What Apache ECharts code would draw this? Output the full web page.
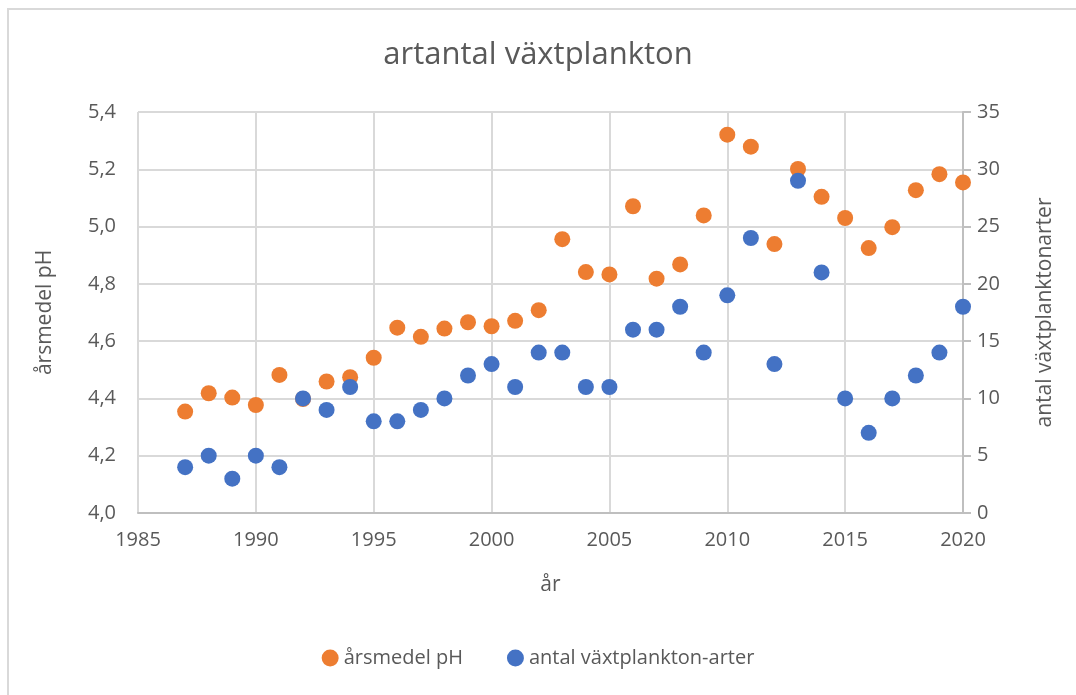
<!DOCTYPE html>
<html>
<head>
<meta charset="utf-8">
<script src="https://cdn.jsdelivr.net/npm/echarts@6/dist/echarts.min.js"></script>
<style>
  html, body { margin: 0; padding: 0; background: #fff; }
  #frame { position: absolute; left: 7px; top: 8px; width: 1200px; height: 800px;
           border-left: 2px solid #d9d9d9; border-top: 2px solid #d9d9d9; }
  #chart { position: absolute; left: 0; top: 0; width: 1076px; height: 695px; }
</style>
</head>
<body>
<div id="frame"></div>
<div id="chart"></div>
<script>
// år
const years = [1987, 1988, 1989, 1990, 1991, 1992, 1993, 1994, 1995, 1996, 1997,
  1998, 1999, 2000, 2001, 2002, 2003, 2004, 2005, 2006, 2007, 2008, 2009,
  2010, 2011, 2012, 2013, 2014, 2015, 2016, 2017, 2018, 2019, 2020]

// årsmedel pH
const phValues = [4.354, 4.418, 4.403, 4.377, 4.482, 4.398, 4.459, 4.474, 4.542, 4.647, 4.615,
  4.644, 4.666, 4.652, 4.671, 4.708, 4.956, 4.841, 4.833, 5.071, 4.818, 4.868, 5.039,
  5.321, 5.279, 4.939, 5.201, 5.104, 5.030, 4.925, 4.998, 5.127, 5.183, 5.154]

// antal växtplankton-arter
const speciesCounts = [4, 5, 3, 5, 4, 10, 9, 11, 8, 8, 9,
  10, 12, 13, 11, 14, 14, 11, 11, 16, 16, 18, 14,
  19, 24, 13, 29, 21, 10, 7, 10, 12, 14, 18]

const textColor = '#595959'
const gridColor = '#d9d9d9'
const font = "'Open Sans', 'Noto Sans', sans-serif"

const myChart = echarts.init(document.getElementById('chart'))
const options = {
  backgroundColor: 'transparent',
  textStyle: { fontFamily: font, color: textColor },
  title: {
    text: 'artantal växtplankton',
    left: 'center',
    top: 35,
    textStyle: { fontSize: 31, fontWeight: 'normal', color: textColor, fontFamily: font }
  },
  legend: {
    bottom: 22,
    left: 'center',
    itemGap: 44,
    itemWidth: 17,
    itemHeight: 17,
    textStyle: { fontSize: 20, color: textColor, fontFamily: font },
    data: [
      { name: 'årsmedel pH', icon: 'circle' },
      { name: 'antal växtplankton-arter', icon: 'circle' }
    ]
  },
  grid: { left: 138, right: 113, top: 112, bottom: 182 },
  xAxis: {
    type: 'value',
    min: 1985,
    max: 2020,
    interval: 5,
    name: 'år',
    nameLocation: 'middle',
    nameGap: 62,
    nameTextStyle: { fontSize: 21, color: textColor },
    axisLine: { show: true, lineStyle: { color: '#bfbfbf', width: 2 } },
    axisTick: { show: false },
    axisLabel: { fontSize: 20, color: textColor, margin: 17, formatter: v => String(v) },
    splitLine: { show: true, lineStyle: { color: gridColor, width: 2 } }
  },
  yAxis: [
    {
      type: 'value',
      min: 4.0,
      max: 5.4,
      interval: 0.2,
      name: 'årsmedel pH',
      nameLocation: 'middle',
      nameRotate: 90,
      nameGap: 82,
      nameTextStyle: { fontSize: 21, color: textColor },
      axisLine: { show: false },
      axisTick: { show: false },
      axisLabel: {
        fontSize: 20, color: textColor, margin: 22,
        formatter: v => v.toFixed(1).replace('.', ',')
      },
      splitLine: { show: true, lineStyle: { color: gridColor, width: 2 } }
    },
    {
      type: 'value',
      min: 0,
      max: 35,
      interval: 5,
      position: 'right',
      name: 'antal växtplanktonarter',
      nameLocation: 'middle',
      nameRotate: 90,
      nameGap: 72,
      nameTextStyle: { fontSize: 21, color: textColor },
      axisLine: { show: true, lineStyle: { color: '#bfbfbf', width: 2 } },
      axisTick: { show: true, inside: false, length: 8, lineStyle: { color: '#bfbfbf', width: 2 } },
      axisLabel: { fontSize: 20, color: textColor, margin: 14 },
      splitLine: { show: false }
    }
  ],
  series: [
    {
      name: 'årsmedel pH',
      type: 'scatter',
      yAxisIndex: 0,
      symbolSize: 16,
      itemStyle: { color: '#ED7D31', opacity: 1 },
      data: years.map((y, i) => [y, phValues[i]])
    },
    {
      name: 'antal växtplankton-arter',
      type: 'scatter',
      yAxisIndex: 1,
      symbolSize: 16,
      itemStyle: { color: '#4472C4', opacity: 1 },
      data: years.map((y, i) => [y, speciesCounts[i]])
    }
  ]
}
myChart.setOption(options)
</script>
</body>
</html>
